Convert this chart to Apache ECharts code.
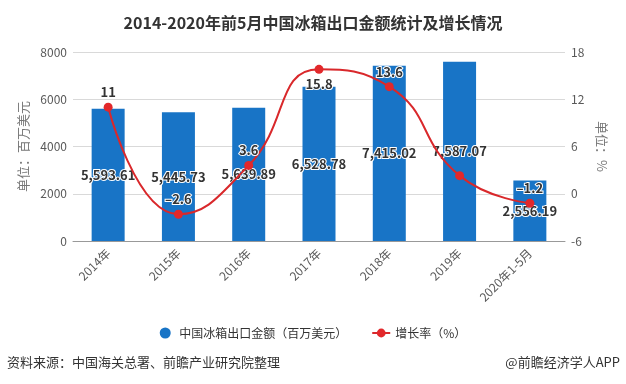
<!DOCTYPE html>
<html>
<head>
<meta charset="utf-8">
<script src="https://cdn.jsdelivr.net/npm/echarts@6/dist/echarts.min.js"></script>
<style>html,body{margin:0;padding:0;background:#fff;}#c{width:626px;height:384px;}</style>
</head>
<body>
<div id="c"></div>
<script>
var categories = ['2014年','2015年','2016年','2017年','2018年','2019年','2020年1-5月'];
var exportValues = [5593.61, 5445.73, 5639.89, 6528.78, 7415.02, 7587.07, 2556.19];
var growthRates = [11, -2.6, 3.6, 15.8, 13.6, 2.3, -1.2];
var leftTicks = [0, 2000, 4000, 6000, 8000];
var rightTicks = [-6, 0, 6, 12, 18];

var FONT = '"Noto Sans CJK SC", "Microsoft YaHei", sans-serif';
var chart = echarts.init(document.getElementById('c'));

var lineData = growthRates.map(function(v, i){
  var d = {value: v};
  if (i === 3) d.label = {position: 'bottom'};
  if (i === 5) d.label = {show: false};
  return d;
});

chart.setOption({
  animation: false,
  textStyle: {fontFamily: FONT},
  title: {
    text: '2014-2020年前5月中国冰箱出口金额统计及增长情况',
    left: 'center', top: 10,
    textStyle: {fontSize: 16, fontWeight: 'bold', color: '#333', fontFamily: FONT}
  },
  legend: {
    top: 322, left: 'center', itemGap: 24, itemWidth: 18, itemHeight: 11,
    textStyle: {fontSize: 12, color: '#333', fontFamily: FONT},
    data: [
      {name: '中国冰箱出口金额（百万美元）', icon: 'circle', itemStyle: {color: '#1874c6'}},
      {name: '增长率（%）'}
    ]
  },
  grid: {left: 73, right: 61, top: 52, bottom: 143},
  xAxis: {
    type: 'category', data: categories,
    axisLine: {lineStyle: {color: '#999'}},
    axisTick: {alignWithLabel: true, length: 5, lineStyle: {color: '#999'}},
    axisLabel: {rotate: 45, fontSize: 12, color: '#595959', margin: 10, fontFamily: FONT}
  },
  yAxis: [
    {
      type: 'value', min: 0, max: 8000, interval: 2000,
      name: '单位：百万美元', nameLocation: 'middle', nameGap: 42, nameRotate: 90,
      nameTextStyle: {fontSize: 13, color: '#777', fontFamily: FONT},
      axisLine: {show: false}, axisTick: {show: false},
      axisLabel: {fontSize: 12, color: '#595959', margin: 6, formatter: function(v){ return String(v); }},
      splitLine: {lineStyle: {color: '#d9d9d9'}}
    },
    {
      type: 'value', min: -6, max: 18, interval: 6,
      name: '单位：%', nameLocation: 'middle', nameGap: 28, nameRotate: -90,
      nameTextStyle: {fontSize: 13, color: '#777', fontFamily: FONT},
      axisLine: {show: false}, axisTick: {show: false},
      axisLabel: {fontSize: 12, color: '#595959', margin: 6},
      splitLine: {show: false}
    }
  ],
  series: [
    {
      name: '中国冰箱出口金额（百万美元）', type: 'bar', data: exportValues,
      barWidth: 33, itemStyle: {color: '#1874c6'},
      label: {
        show: true, position: 'inside', fontSize: 13, fontWeight: 'bold',
        color: '#333', textBorderColor: '#fff', textBorderWidth: 2,
        fontFamily: FONT,
        formatter: function(p){ return p.value.toLocaleString('en-US', {minimumFractionDigits: 2, maximumFractionDigits: 2}); }
      }
    },
    {
      name: '增长率（%）', type: 'line', yAxisIndex: 1, data: lineData,
      smooth: 0.5, symbol: 'circle', symbolSize: 9,
      lineStyle: {color: '#d9282b', width: 2},
      itemStyle: {color: '#e2282b'},
      label: {
        show: true, position: 'top', distance: 4, fontSize: 13, fontWeight: 'bold',
        color: '#333', textBorderColor: '#fff', textBorderWidth: 2,
        fontFamily: FONT,
        formatter: function(p){ return String(p.value).replace('-', '–'); }
      }
    }
  ],
  graphic: [
    {type: 'text', left: 7, top: 356, style: {text: '资料来源：中国海关总署、前瞻产业研究院整理', fontSize: 13, fill: '#333', fontFamily: FONT}},
    {type: 'text', right: 6, top: 356, style: {text: '@前瞻经济学人APP', fontSize: 13, fill: '#333', fontFamily: FONT}}
  ]
});
</script>
</body>
</html>
